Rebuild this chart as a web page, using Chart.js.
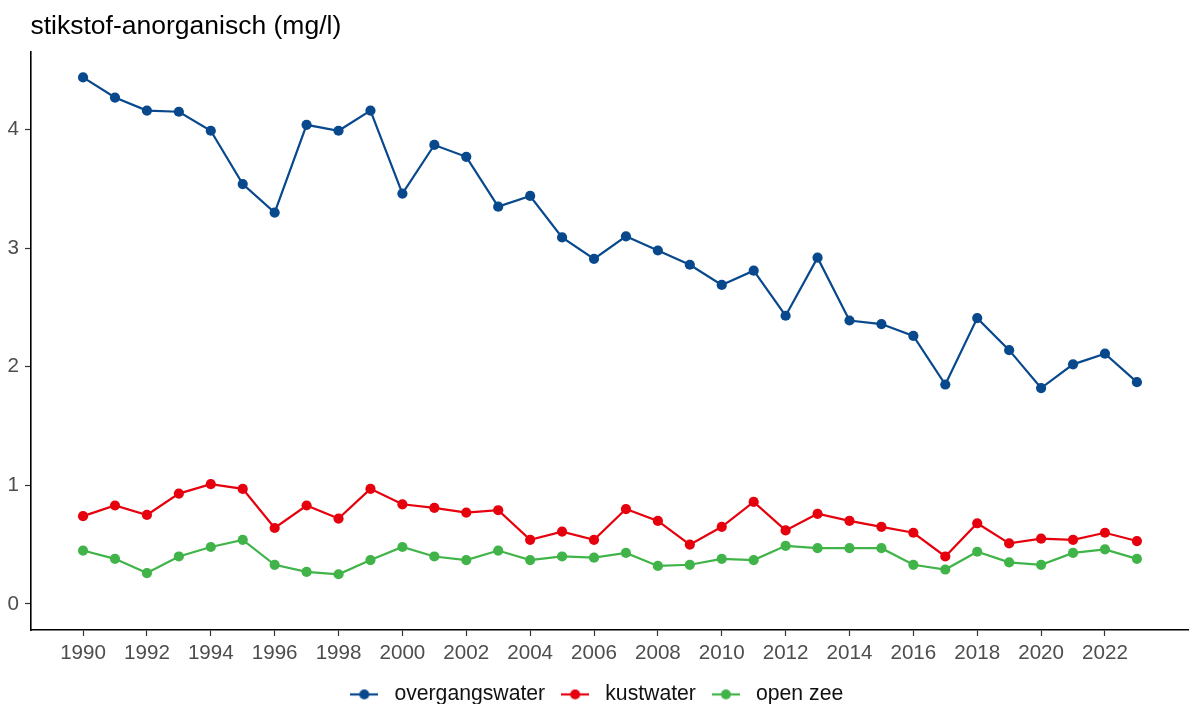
<!DOCTYPE html>
<html>
<head>
<meta charset="utf-8">
<script src="https://cdn.jsdelivr.net/npm/chart.js@4.4.1/dist/chart.umd.min.js"></script>
<style>
  html, body { margin: 0; padding: 0; background: #fff; overflow: hidden; }
  #wrap { position: relative; width: 1197px; height: 715px; }
</style>
</head>
<body>
<div id="wrap"><canvas id="chart"></canvas></div>
<script>
// stikstof-anorganisch per jaar, drie watertypen
var YEARS = [1990,1991,1992,1993,1994,1995,1996,1997,1998,1999,2000,2001,2002,2003,2004,2005,2006,
             2007,2008,2009,2010,2011,2012,2013,2014,2015,2016,2017,2018,2019,2020,2021,2022,2023];
var OVERGANGSWATER = [4.44,4.27,4.16,4.15,3.99,3.54,3.30,4.04,3.99,4.16,3.46,3.87,3.77,3.35,3.44,3.09,2.91,
                      3.10,2.98,2.86,2.69,2.81,2.43,2.92,2.39,2.36,2.26,1.85,2.41,2.14,1.82,2.02,2.11,1.87];
var KUSTWATER = [0.74,0.83,0.75,0.93,1.01,0.97,0.64,0.83,0.72,0.97,0.84,0.81,0.77,0.79,0.54,0.61,0.54,
                 0.80,0.70,0.50,0.65,0.86,0.62,0.76,0.70,0.65,0.60,0.40,0.68,0.51,0.55,0.54,0.60,0.53];
var OPEN_ZEE = [0.45,0.38,0.26,0.40,0.48,0.54,0.33,0.27,0.25,0.37,0.48,0.40,0.37,0.45,0.37,0.40,0.39,
                0.43,0.32,0.33,0.38,0.37,0.49,0.47,0.47,0.47,0.33,0.29,0.44,0.35,0.33,0.43,0.46,0.38];
var X_TICKS = [1990,1992,1994,1996,1998,2000,2002,2004,2006,2008,2010,2012,2014,2016,2018,2020,2022];
var Y_TICKS = [0,1,2,3,4];
var SERIES_NAMES = ['overgangswater','kustwater','open zee'];
var SERIES_COLORS = ['#08488c','#e6000d','#40b449'];
var TITLE = 'stikstof-anorganisch (mg/l)';

var FONT = '"Liberation Sans", Arial, Helvetica, sans-serif';

// legend key: short line with a dot in the middle
function legendKey(color) {
  var c = document.createElement('canvas');
  c.width = 28; c.height = 12;
  var g = c.getContext('2d');
  g.strokeStyle = color; g.lineWidth = 2.2;
  g.beginPath(); g.moveTo(0, 6); g.lineTo(28, 6); g.stroke();
  g.fillStyle = color;
  g.beginPath(); g.arc(14, 6, 5, 0, Math.PI * 2); g.fill();
  return c;
}

function pts(values) {
  return values.map(function(v, i) { return { x: YEARS[i], y: v }; });
}

var seriesData = [OVERGANGSWATER, KUSTWATER, OPEN_ZEE];
var datasets = seriesData.map(function(vals, i) {
  return {
    label: SERIES_NAMES[i],
    data: pts(vals),
    borderColor: SERIES_COLORS[i],
    backgroundColor: SERIES_COLORS[i],
    pointBackgroundColor: SERIES_COLORS[i],
    pointBorderWidth: 0,
    pointRadius: 5.1,
    borderWidth: 2.2,
    tension: 0
  };
});

var titlePlugin = {
  id: 'plotTitle',
  afterDraw: function(chart) {
    var ctx = chart.ctx;
    ctx.save();
    ctx.font = '26.5px ' + FONT;
    ctx.fillStyle = '#000';
    ctx.textBaseline = 'alphabetic';
    ctx.fillText(TITLE, 30.5, 33.5);
    ctx.restore();
  }
};

new Chart(document.getElementById('chart'), {
  type: 'line',
  data: { datasets: datasets },
  plugins: [titlePlugin],
  options: {
    responsive: true,
    maintainAspectRatio: false,
    animation: false,
    layout: { padding: { top: 52, right: 9, left: 0, bottom: 0 } },
    plugins: {
      tooltip: { enabled: false },
      legend: {
        position: 'bottom',
        labels: {
          usePointStyle: true,
          pointStyleWidth: 39,
          padding: 10.5,
          color: '#111',
          font: { family: FONT, size: 21.2 },
          generateLabels: function(chart) {
            return chart.data.datasets.map(function(ds, i) {
              return {
                text: ds.label,
                pointStyle: legendKey(SERIES_COLORS[i]),
                fillStyle: SERIES_COLORS[i],
                strokeStyle: SERIES_COLORS[i],
                lineWidth: 0,
                fontColor: '#111',
                datasetIndex: i
              };
            });
          }
        }
      }
    },
    scales: {
      x: {
        type: 'linear',
        min: 1988.37,
        max: 2024.6,
        afterBuildTicks: function(scale) {
          scale.ticks = X_TICKS.map(function(v) { return { value: v }; });
        },
        afterFit: function(scale) {
          var lh = scale.chart.legend ? scale.chart.legend.height : 0;
          scale.height = 715 - 630 - lh;
        },
        ticks: {
          color: '#4d4d4d',
          font: { family: FONT, size: 20.6 },
          padding: 5,
          maxRotation: 0,
          autoSkip: false,
          callback: function(v) { return String(v); }
        },
        grid: { drawOnChartArea: false, drawTicks: true, tickLength: 6, tickColor: '#333', tickWidth: 1.2 },
        border: { display: true, color: '#000', width: 1.6 }
      },
      y: {
        type: 'linear',
        min: -0.22,
        max: 4.654,
        afterBuildTicks: function(scale) {
          scale.ticks = Y_TICKS.map(function(v) { return { value: v }; });
        },
        afterFit: function(scale) { scale.width = 31; },
        ticks: {
          color: '#4d4d4d',
          font: { family: FONT, size: 20.6 },
          padding: 6,
          callback: function(v) { return String(v); }
        },
        grid: { drawOnChartArea: false, drawTicks: true, tickLength: 6, tickColor: '#333', tickWidth: 1.2 },
        border: { display: true, color: '#000', width: 1.6 }
      }
    }
  }
});
</script>
</body>
</html>
